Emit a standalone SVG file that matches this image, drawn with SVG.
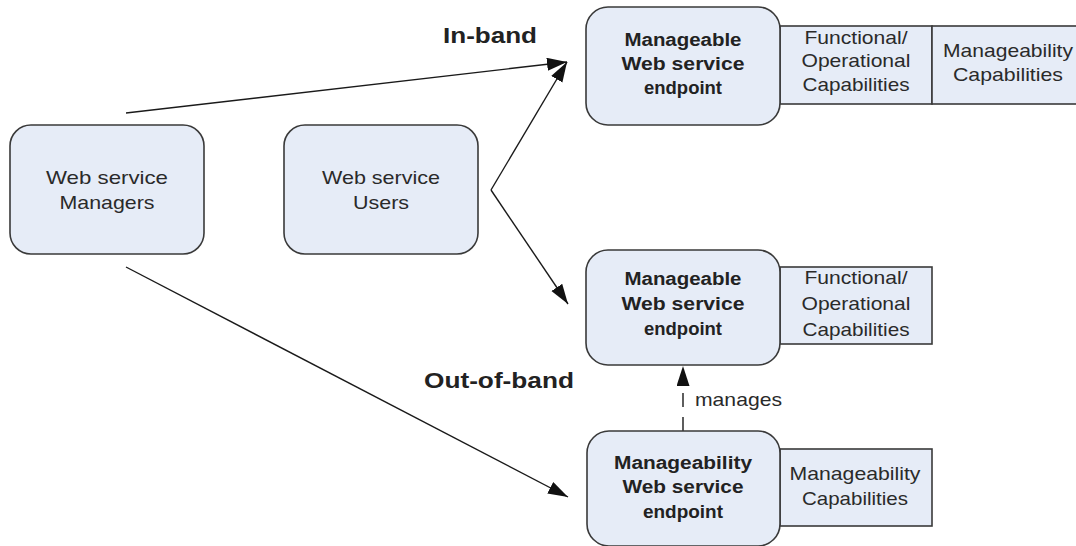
<svg xmlns="http://www.w3.org/2000/svg" width="1076" height="546" viewBox="0 0 1076 546">
<defs>
<marker id="ah" markerUnits="userSpaceOnUse" markerWidth="22" markerHeight="14" refX="20" refY="6.5" orient="auto">
<path d="M0,0 L20,6.5 L0,13 z" fill="#111"/>
</marker>
<style>
.box{fill:#e6ecf7;stroke:#3a3a3a;stroke-width:1.6}
.t{font-family:"Liberation Sans",Arial,sans-serif;font-size:19px;fill:#2a2a2a;text-anchor:middle}
.b{font-family:"Liberation Sans",Arial,sans-serif;font-size:18px;font-weight:bold;fill:#222;text-anchor:middle}
.lbl{font-family:"Liberation Sans",Arial,sans-serif;font-size:22px;font-weight:bold;fill:#222;text-anchor:middle}
.ln{fill:none;stroke:#1a1a1a;stroke-width:1.4}
</style>
</defs>
<rect width="1076" height="546" fill="#ffffff"/>

<g id="connectors">
<line class="ln" x1="126" y1="113" x2="567" y2="62" marker-end="url(#ah)"/>
<line class="ln" x1="491" y1="190" x2="567" y2="62" marker-end="url(#ah)"/>
<line class="ln" x1="491" y1="190" x2="568" y2="304" marker-end="url(#ah)"/>
<line class="ln" x1="126" y1="267" x2="568" y2="497" marker-end="url(#ah)"/>
<line class="ln" x1="683" y1="431" x2="683" y2="366" stroke-dasharray="14 10" marker-end="url(#ah)"/>
<text class="t" x="695" y="406" text-anchor="start" style="text-anchor:start" textLength="87" lengthAdjust="spacingAndGlyphs">manages</text>
</g>

<g id="label-inband">
<text class="lbl" x="490" y="43" textLength="94" lengthAdjust="spacingAndGlyphs">In-band</text>
</g>
<g id="label-outofband">
<text class="lbl" x="499" y="388" textLength="150" lengthAdjust="spacingAndGlyphs">Out-of-band</text>
</g>

<g id="managers">
<rect class="box" x="10" y="125" width="194" height="129" rx="21"/>
<text class="t" x="107" y="184" textLength="122" lengthAdjust="spacingAndGlyphs">Web service</text>
<text class="t" x="107" y="209" textLength="95" lengthAdjust="spacingAndGlyphs">Managers</text>
</g>

<g id="users">
<rect class="box" x="284" y="125" width="194" height="129" rx="21"/>
<text class="t" x="381" y="184" textLength="118" lengthAdjust="spacingAndGlyphs">Web service</text>
<text class="t" x="381" y="209" textLength="56" lengthAdjust="spacingAndGlyphs">Users</text>
</g>

<g id="endpoint-top">
<rect class="box" x="780" y="26" width="152" height="78"/>
<rect class="box" x="932" y="26" width="152" height="78"/>
<rect class="box" x="586" y="7" width="194" height="118" rx="22"/>
<text class="b" x="683" y="46" textLength="117" lengthAdjust="spacingAndGlyphs">Manageable</text>
<text class="b" x="683" y="70" textLength="123" lengthAdjust="spacingAndGlyphs">Web service</text>
<text class="b" x="683" y="94" textLength="78" lengthAdjust="spacingAndGlyphs">endpoint</text>
<text class="t" x="856" y="44" textLength="103" lengthAdjust="spacingAndGlyphs">Functional/</text>
<text class="t" x="856" y="67" textLength="109" lengthAdjust="spacingAndGlyphs">Operational</text>
<text class="t" x="856" y="91" textLength="107" lengthAdjust="spacingAndGlyphs">Capabilities</text>
<text class="t" x="1008" y="57" textLength="130" lengthAdjust="spacingAndGlyphs">Manageability</text>
<text class="t" x="1008" y="81" textLength="110" lengthAdjust="spacingAndGlyphs">Capabilities</text>
</g>

<g id="endpoint-middle">
<rect class="box" x="780" y="267" width="152" height="77"/>
<rect class="box" x="586" y="250" width="194" height="115" rx="22"/>
<text class="b" x="683" y="285" textLength="117" lengthAdjust="spacingAndGlyphs">Manageable</text>
<text class="b" x="683" y="310" textLength="123" lengthAdjust="spacingAndGlyphs">Web service</text>
<text class="b" x="683" y="335" textLength="78" lengthAdjust="spacingAndGlyphs">endpoint</text>
<text class="t" x="856" y="284" textLength="103" lengthAdjust="spacingAndGlyphs">Functional/</text>
<text class="t" x="856" y="310" textLength="109" lengthAdjust="spacingAndGlyphs">Operational</text>
<text class="t" x="856" y="336" textLength="107" lengthAdjust="spacingAndGlyphs">Capabilities</text>
</g>

<g id="endpoint-manageability">
<rect class="box" x="780" y="449" width="152" height="77"/>
<rect class="box" x="587" y="431" width="193" height="115" rx="22"/>
<text class="b" x="683" y="469" textLength="138" lengthAdjust="spacingAndGlyphs">Manageability</text>
<text class="b" x="683" y="493" textLength="121" lengthAdjust="spacingAndGlyphs">Web service</text>
<text class="b" x="683" y="518" textLength="80" lengthAdjust="spacingAndGlyphs">endpoint</text>
<text class="t" x="855" y="480" textLength="131" lengthAdjust="spacingAndGlyphs">Manageability</text>
<text class="t" x="855" y="505" textLength="106" lengthAdjust="spacingAndGlyphs">Capabilities</text>
</g>
</svg>
